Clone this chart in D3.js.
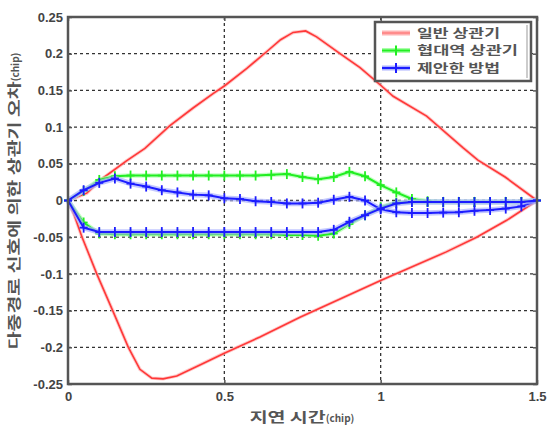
<!DOCTYPE html>
<html>
<head>
<meta charset="utf-8">
<script src="https://cdn.jsdelivr.net/npm/d3@7"></script>
<style>
  body { margin: 0; background: #fff; }
  svg { display: block; }
  .tick text { font-family: "Liberation Sans", Arial, sans-serif; font-size: 13px; fill: #444; font-weight: bold; }
</style>
</head>
<body>
<svg id="chart" width="547" height="425"></svg>
<script>
// tick labels
var xTicks = [0, 0.5, 1, 1.5];
var yTicks = [-0.25, -0.2, -0.15, -0.1, -0.05, 0, 0.05, 0.1, 0.15, 0.2, 0.25];

// legend names
var seriesNames = ["일반 상관기", "협대역 상관기", "제안한 방법"];

// red curve (no markers), upper and lower branch
var redUpperX = [0, 0.06, 0.11, 0.187, 0.246, 0.326, 0.4, 0.465, 0.5, 0.572, 0.636, 0.68, 0.72, 0.76, 0.795, 0.87, 0.934, 1.0, 1.04, 1.147, 1.263, 1.311, 1.398, 1.5];
var redUpperY = [0, 0.01, 0.03, 0.054, 0.071, 0.102, 0.126, 0.146, 0.156, 0.18, 0.203, 0.219, 0.229, 0.231, 0.223, 0.2, 0.181, 0.157, 0.142, 0.115, 0.072, 0.055, 0.032, 0];
var redLowerX = [0, 0.02, 0.045, 0.092, 0.145, 0.193, 0.23, 0.268, 0.304, 0.348, 0.432, 0.5, 0.614, 0.742, 1.0, 1.21, 1.307, 1.403, 1.5];
var redLowerY = [0, -0.02, -0.05, -0.1, -0.152, -0.2, -0.23, -0.242, -0.243, -0.239, -0.222, -0.208, -0.186, -0.159, -0.109, -0.07, -0.05, -0.027, 0];

// green and blue curves, sampled at the marker positions
var delayX = [0, 0.05, 0.1, 0.15, 0.2, 0.25, 0.3, 0.35, 0.4, 0.45, 0.5, 0.55, 0.6, 0.65, 0.7, 0.75,
              0.8, 0.85, 0.9, 0.95, 1.0, 1.05, 1.1, 1.15, 1.2, 1.25, 1.3, 1.35, 1.4, 1.45, 1.5];
var greenUpper = [0, 0.013, 0.028, 0.033, 0.034, 0.034, 0.034, 0.034, 0.034, 0.034, 0.034, 0.034, 0.034, 0.035, 0.036, 0.032,
                  0.029, 0.032, 0.039, 0.033, 0.021, 0.011, 0.002, -0.001, -0.002, -0.002, -0.002, -0.002, -0.002, -0.002, 0];
var greenLower = [0, -0.03, -0.045, -0.046, -0.046, -0.046, -0.046, -0.046, -0.046, -0.046, -0.046, -0.046, -0.046, -0.046, -0.047, -0.047,
                  -0.048, -0.045, -0.032, -0.02, -0.009, -0.003, -0.002, -0.002, -0.002, -0.002, -0.002, -0.002, -0.002, -0.002, 0];
var blueUpper = [0, 0.014, 0.024, 0.03, 0.023, 0.019, 0.014, 0.011, 0.008, 0.007, 0.003, 0.002, -0.001, -0.002, -0.004, -0.004,
                 -0.003, 0.001, 0.005, 0.0, -0.012, -0.016, -0.017, -0.017, -0.0165, -0.016, -0.014, -0.013, -0.011, -0.008, 0];
var blueLower = [0, -0.037, -0.043, -0.043, -0.043, -0.043, -0.043, -0.043, -0.043, -0.043, -0.043, -0.043, -0.043, -0.043, -0.043, -0.043,
                 -0.043, -0.04, -0.029, -0.02, -0.011, -0.004, -0.002, -0.002, -0.002, -0.002, -0.002, -0.002, -0.002, -0.002, 0];

var svg = d3.select("#chart"),
    margin = {top: 17, right: 10, bottom: 41, left: 68},
    width = 537 - margin.left,
    height = 384 - margin.top,
    g = svg.append("g").attr("transform", "translate(" + margin.left + "," + margin.top + ")");

var x = d3.scaleLinear().domain([0, 1.5]).range([0, width]);
var y = d3.scaleLinear().domain([-0.25, 0.25]).range([height, 0]);

var fmt = function(d) { return d === 0 ? "0" : String(+d.toFixed(2)).replace("\u2212", "-"); };

// grid lines (dotted)
g.append("g").selectAll("line")
  .data(yTicks.filter(function(d) { return Math.abs(d) < 0.25; }))
  .enter().append("line")
    .attr("x1", 0).attr("x2", width)
    .attr("y1", function(d) { return y(d); }).attr("y2", function(d) { return y(d); })
    .attr("stroke", "#333").attr("stroke-width", 1.3).attr("stroke-dasharray", "3,3");
g.append("g").selectAll("line")
  .data(xTicks.filter(function(d) { return d > 0 && d < 1.5; }))
  .enter().append("line")
    .attr("y1", 0).attr("y2", height)
    .attr("x1", function(d) { return x(d); }).attr("x2", function(d) { return x(d); })
    .attr("stroke", "#333").attr("stroke-width", 1.3).attr("stroke-dasharray", "3,3");

// axes with inside ticks
g.append("g").attr("transform", "translate(0," + height + ")")
  .call(d3.axisBottom(x).tickValues(xTicks).tickFormat(fmt).tickSize(-4).tickPadding(8));
g.append("g")
  .call(d3.axisLeft(y).tickValues(yTicks).tickFormat(fmt).tickSize(-4).tickPadding(5));
g.append("g").call(d3.axisTop(x).tickValues(xTicks).tickFormat("").tickSize(-4));
g.append("g").attr("transform", "translate(" + width + ",0)")
  .call(d3.axisRight(y).tickValues(yTicks).tickFormat("").tickSize(-4));
g.selectAll(".domain").remove();
g.selectAll(".tick line").attr("stroke", "#555").attr("stroke-width", 1.5);

var line = d3.line()
  .x(function(d) { return x(d[0]); })
  .y(function(d) { return y(d[1]); });

function zip(xs, ys) { return xs.map(function(v, i) { return [v, ys[i]]; }); }

function drawSeries(pts, core, halo, coreW, haloW) {
  g.append("path").datum(pts).attr("d", line)
    .attr("fill", "none").attr("stroke", halo).attr("stroke-width", haloW).attr("stroke-opacity", 0.7);
  g.append("path").datum(pts).attr("d", line)
    .attr("fill", "none").attr("stroke", core).attr("stroke-width", coreW);
}

function drawMarkers(pts, color) {
  var m = g.append("g").selectAll("g").data(pts).enter().append("g")
    .attr("transform", function(d) { return "translate(" + x(d[0]) + "," + y(d[1]) + ")"; });
  m.append("line").attr("x1", -4).attr("x2", 4).attr("stroke", color).attr("stroke-width", 1.8);
  m.append("line").attr("y1", -5).attr("y2", 5).attr("stroke", color).attr("stroke-width", 1.8);
}

var red = "#ff3838", green = "#22ee22", blue = "#1c1cff";

drawSeries(zip(redUpperX, redUpperY), red, "#ffb4b4", 1.6, 3.5);
drawSeries(zip(redLowerX, redLowerY), red, "#ffb4b4", 1.6, 3.5);

drawSeries(zip(delayX, greenUpper), green, "#a8ffa8", 2, 4.5);
drawSeries(zip(delayX, greenLower), green, "#a8ffa8", 2, 4.5);
drawMarkers(zip(delayX, greenUpper), green);
drawMarkers(zip(delayX, greenLower), green);

drawSeries(zip(delayX, blueUpper), blue, "#aab0ff", 2, 5.5);
drawSeries(zip(delayX, blueLower), blue, "#aab0ff", 2, 5.5);
drawMarkers(zip(delayX, blueUpper), blue);
drawMarkers(zip(delayX, blueLower), blue);

// frame
g.append("rect").attr("width", width).attr("height", height)
  .attr("fill", "none").attr("stroke", "#555").attr("stroke-width", 2.5);

// legend
var legend = svg.append("g").attr("transform", "translate(375,22)");
legend.append("rect").attr("width", 156).attr("height", 59)
  .attr("fill", "#fff").attr("stroke", "#555").attr("stroke-width", 2.5);
legend.append("line").attr("x1", 152).attr("x2", 152).attr("y1", 3).attr("y2", 56)
  .attr("stroke", "#ccc").attr("stroke-width", 2);
var legColors = [red, green, blue], legHalo = ["#ffb4b4", "#a8ffa8", "#aab0ff"];
var legWidths = [83, 101, 83];
var item = legend.selectAll(".item").data(seriesNames).enter().append("g")
  .attr("transform", function(d, i) { return "translate(0," + (11 + i * 17.5) + ")"; });
item.append("line").attr("x1", 7).attr("x2", 35)
  .attr("stroke", function(d, i) { return legHalo[i]; }).attr("stroke-width", 5);
item.append("line").attr("x1", 7).attr("x2", 35)
  .attr("stroke", function(d, i) { return i === 0 ? "#ff8c8c" : legColors[i]; }).attr("stroke-width", 2);
item.filter(function(d, i) { return i > 0; }).append("line")
  .attr("x1", 21).attr("x2", 21).attr("y1", -5).attr("y2", 5)
  .attr("stroke", function(d) { return legColors[seriesNames.indexOf(d)]; }).attr("stroke-width", 2);
item.append("text").attr("x", 42).attr("dy", "0.38em")
  .attr("font-family", "'Noto Sans CJK KR', sans-serif").attr("font-size", 12)
  .attr("font-weight", "bold").attr("fill", "#555")
  .attr("textLength", function(d, i) { return legWidths[i]; })
  .attr("lengthAdjust", "spacingAndGlyphs")
  .text(function(d) { return d; });

// axis titles
var xTitle = svg.append("text").attr("x", 302).attr("y", 422).attr("text-anchor", "middle")
  .attr("font-family", "'Noto Sans CJK KR', sans-serif").attr("font-size", 14)
  .attr("font-weight", "bold").attr("fill", "#555");
xTitle.append("tspan").attr("textLength", 76).attr("lengthAdjust", "spacingAndGlyphs").text("지연 시간");
xTitle.append("tspan").attr("font-size", 10).text("(chip)");

var yTitle = svg.append("text").attr("transform", "translate(19,201) rotate(-90)").attr("text-anchor", "middle")
  .attr("font-family", "'Noto Sans CJK KR', sans-serif").attr("font-size", 14)
  .attr("font-weight", "bold").attr("fill", "#555");
yTitle.append("tspan").attr("textLength", 268).attr("lengthAdjust", "spacingAndGlyphs").text("다중경로 신호에 의한 상관기 오차");
yTitle.append("tspan").attr("font-size", 10).text("(chip)");
</script>
</body>
</html>
